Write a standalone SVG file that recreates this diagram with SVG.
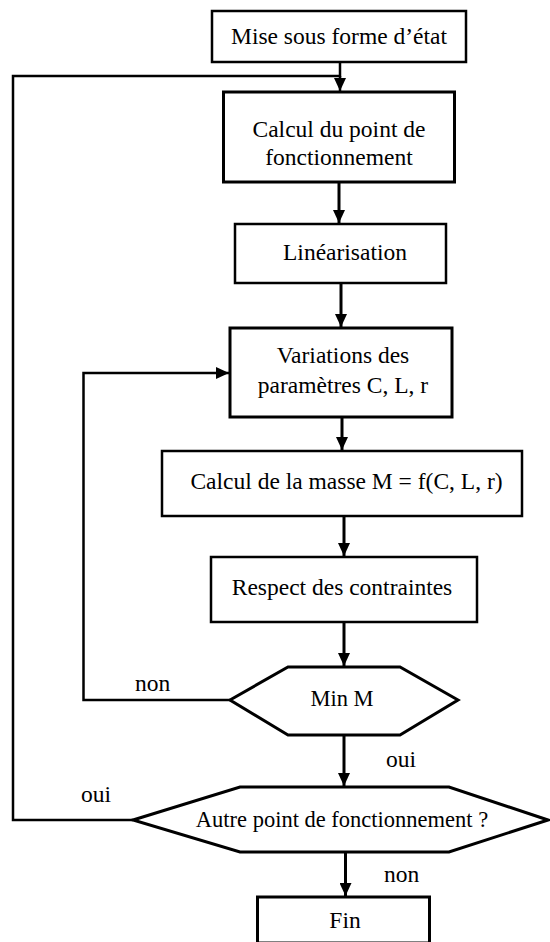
<svg xmlns="http://www.w3.org/2000/svg" width="550" height="942" viewBox="0 0 550 942">
<style>
.box{fill:#fff;stroke:#000;stroke-width:3}
.thin{stroke-width:2.5}
text{font-family:"Liberation Serif","DejaVu Serif",serif;font-size:23.5px;fill:#000}
.t{text-anchor:middle}
.s{font-size:22.5px}
.c{fill:none;stroke:#000;stroke-width:3}
.c2{fill:none;stroke:#000;stroke-width:2.5}
</style>
<defs>
<marker id="ah" markerUnits="userSpaceOnUse" markerWidth="14" markerHeight="12" refX="13" refY="6" orient="auto" viewBox="0 0 14 12">
<path d="M0,0 L13,6 L0,12 Z" fill="#000"/>
</marker>
</defs>
<g id="connectors">
<path class="c2" d="M340,62 V76 H13 V820 H133"/>
<path class="c2" d="M340,76 V91" marker-end="url(#ah)"/>
<path class="c" d="M339,183 V223" marker-end="url(#ah)"/>
<path class="c" d="M341,284 V327" marker-end="url(#ah)"/>
<path class="c" d="M342,418 V450" marker-end="url(#ah)"/>
<path class="c" d="M344,517 V556" marker-end="url(#ah)"/>
<path class="c" d="M344,623 V666" marker-end="url(#ah)"/>
<path class="c2" d="M230,700 H83.5 V373 H229" marker-end="url(#ah)"/>
<path class="c" d="M344,736 V786" marker-end="url(#ah)"/>
<path class="c" d="M345.5,853 V896" marker-end="url(#ah)"/>
<text x="135" y="691">non</text>
<text x="386" y="767">oui</text>
<text x="81" y="802">oui</text>
<text x="384" y="882">non</text>
</g>
<g id="n1">
<rect class="box thin" x="212" y="11" width="254" height="51"/>
<text class="t" x="339" y="44">Mise sous forme d’état</text>
</g>
<g id="n2">
<rect class="box" x="223.5" y="92" width="231" height="90"/>
<text class="t" x="339" y="137">Calcul du point de</text>
<text class="t" x="339" y="165">fonctionnement</text>
</g>
<g id="n3">
<rect class="box thin" x="235" y="224" width="211" height="59"/>
<text class="t" x="345" y="260">Linéarisation</text>
</g>
<g id="n4">
<rect class="box" x="230" y="328" width="222" height="89"/>
<text class="t" x="343" y="363">Variations des</text>
<text class="t" x="343" y="393">paramètres C, L, r</text>
</g>
<g id="n5">
<rect class="box thin" x="162" y="451" width="360" height="65"/>
<text class="t" x="346.5" y="489">Calcul de la masse M = f(C, L, r)</text>
</g>
<g id="n6">
<rect class="box thin" x="211" y="557" width="266" height="65"/>
<text class="t" x="342" y="595">Respect des contraintes</text>
</g>
<g id="n7">
<polygon class="box" points="230,700 288,667 400,667 458,700 400,735 288,735"/>
<text class="t s" x="342" y="706">Min M</text>
</g>
<g id="n8">
<polygon class="box" points="133,820 240,787 449,787 548,820 449,852 240,852"/>
<text class="t s" x="342" y="827">Autre point de fonctionnement ?</text>
</g>
<g id="n9">
<rect class="box" x="257.5" y="897" width="172" height="46"/>
<text class="t" x="345" y="928">Fin</text>
</g>
</svg>
